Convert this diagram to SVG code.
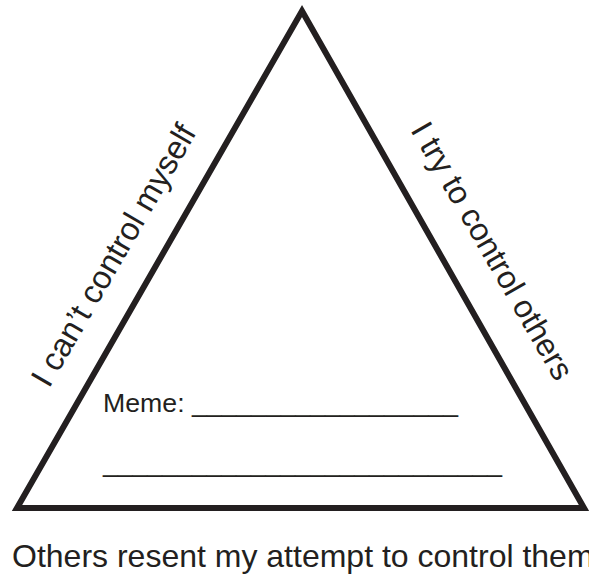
<svg xmlns="http://www.w3.org/2000/svg" width="589" height="576" viewBox="0 0 589 576">
<style>
.t{font-family:"Liberation Sans",Arial,sans-serif;fill:#231f20}
</style>
<rect width="589" height="576" fill="#ffffff"/>
<g id="triangle">
<polygon points="302,11 584,508 17,508" fill="none" stroke="#231f20" stroke-width="6" stroke-linejoin="miter" stroke-miterlimit="10"/>
</g>
<g id="side-left">
<text class="t" x="49" y="389" font-size="32.5" transform="rotate(-60 49 389)">I can’t control myself</text>
</g>
<g id="side-right">
<text class="t" x="410" y="130" font-size="32" transform="rotate(60 410 130)">I try to control others</text>
</g>
<g id="meme">
<text class="t" x="103" y="412" font-size="26.7">Meme:</text>
<text class="t" x="192" y="411" font-size="27" textLength="266" lengthAdjust="spacingAndGlyphs">__________________</text>
<text class="t" x="103" y="471" font-size="27" textLength="399" lengthAdjust="spacingAndGlyphs">___________________________</text>
</g>
<g id="bottom">
<text class="t" x="12" y="567" font-size="32">Others resent my attempt to control them</text>
</g>
</svg>
